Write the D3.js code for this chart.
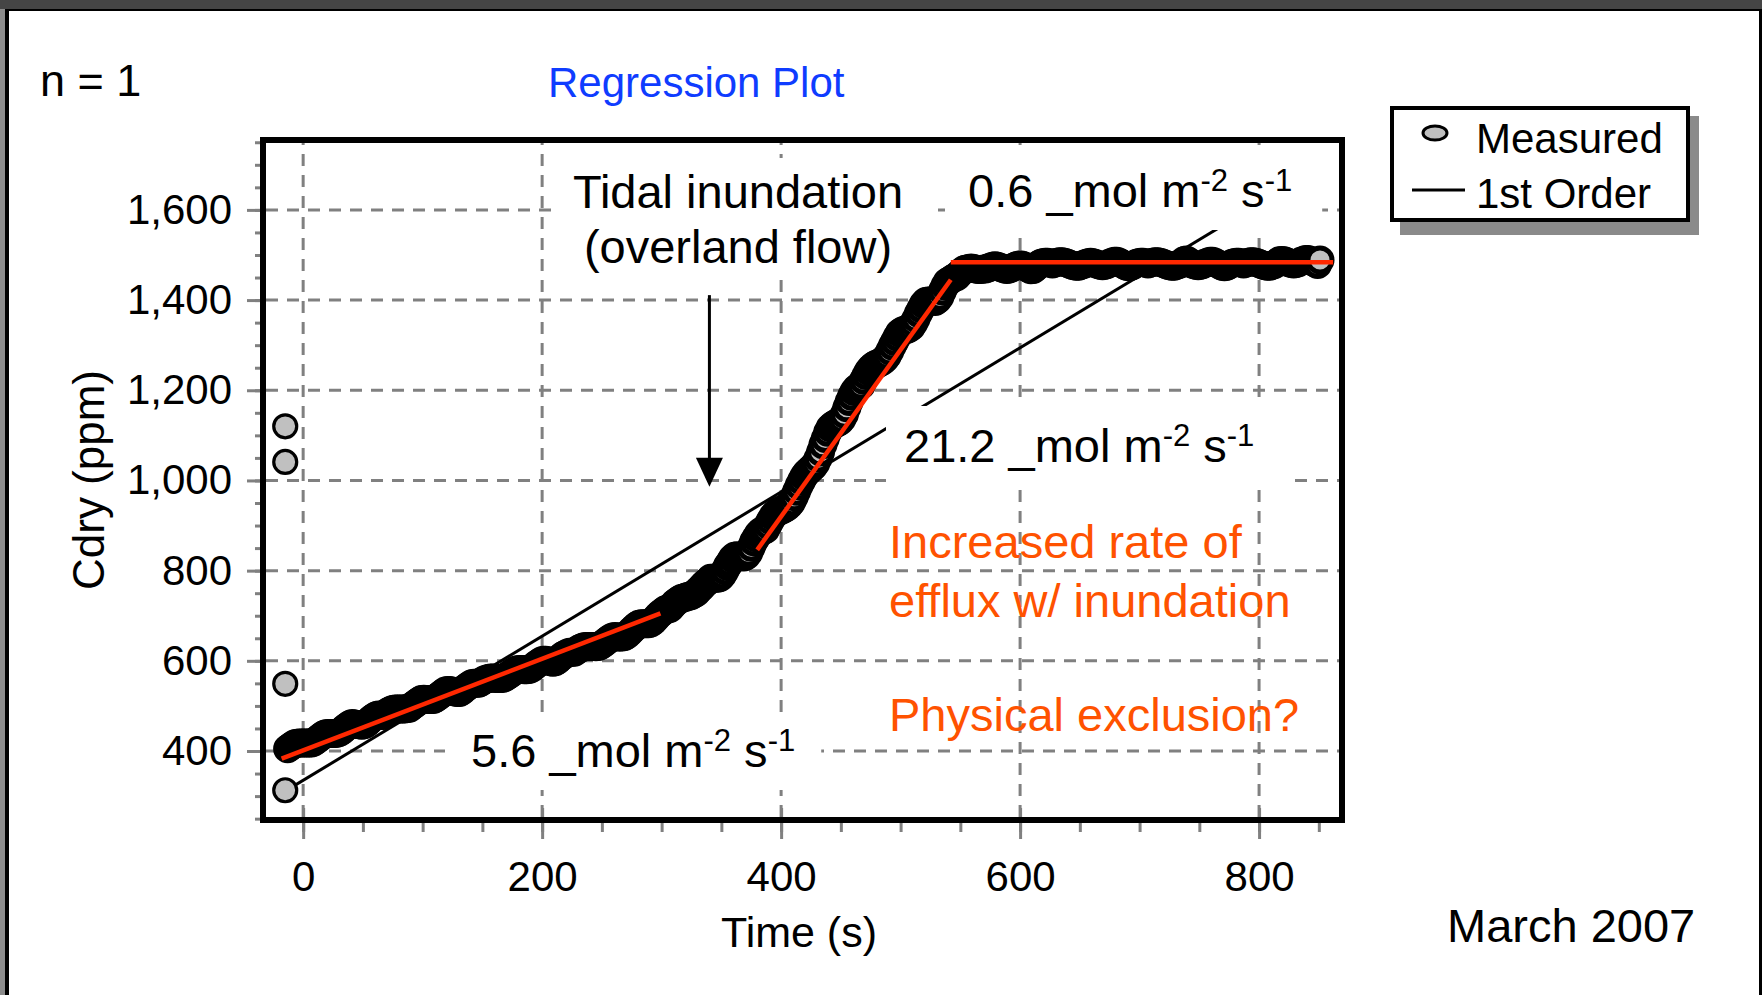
<!DOCTYPE html>
<html>
<head>
<meta charset="utf-8">
<script src="https://cdn.jsdelivr.net/npm/d3@7"></script>
<style>
  body { margin: 0; background: #fff; }
  svg { display: block; font-family: "Liberation Sans", Arial, sans-serif; }
</style>
</head>
<body>
<svg id="chart" width="1762" height="995"></svg>
<script>
// ---------------------------------data------------------------------------

// measured Cdry (ppm), one sample every 2 s starting at -13 s
const sampleStart = -13;
const sampleStep = 2;
const measured = [
  // -13 .. 49 s
  405, 409, 413, 416, 417, 418, 418, 418, 418, 418, 418, 420, 424, 428, 432, 436,
  438, 439, 439, 439, 439, 440, 442, 446, 451, 455, 459, 461, 460, 459, 458, 457,
  // 51 .. 199 s
  458, 461, 466, 471, 475, 478, 480, 479, 479, 483, 487, 490, 492, 493, 493, 493, 493, 493, 494, 495,
  499, 503, 507, 511, 514, 515, 514, 514, 514, 514, 517, 521, 525, 529, 533, 534, 534, 532, 531, 530,
  530, 533, 538, 542, 546, 549, 550, 550, 550, 553, 557, 559, 561, 562, 562, 561, 561, 561, 561, 563,
  567, 570, 574, 578, 580, 581, 581, 580, 580, 581, 583, 587, 592, 595, 599,
  // 201 .. 299 s
  601, 601, 600, 598, 597, 598, 601, 606, 611, 614, 617, 619, 619, 619, 623, 627, 629, 631, 632, 632,
  632, 632, 631, 632, 634, 638, 642, 646, 650, 653, 654, 653, 653, 653, 654, 657, 662, 668, 673, 678,
  681, 682, 682, 682, 682, 684, 688, 694, 700, 705,
  // 301 .. 569 s
  709, 713, 715, 716, 722, 728, 732, 736, 739, 740, 742, 743, 745, 748, 751, 757, 762, 768, 773, 777,
  783, 783, 783, 783, 785, 791, 800, 810, 818, 827, 832, 833, 832, 831, 830, 833, 840, 852, 864, 873,
  881, 887, 889, 891, 901, 911, 920, 926, 930, 933, 935, 938, 941, 946, 953, 964, 976, 988, 999, 1009,
  1016, 1021, 1026, 1031, 1038, 1049, 1063, 1079, 1093, 1107, 1117, 1122, 1125, 1128, 1131, 1137, 1147, 1161, 1175, 1187,
  1197, 1204, 1208, 1211, 1222, 1233, 1242, 1249, 1254, 1257, 1259, 1262, 1265, 1270, 1277, 1287, 1298, 1308, 1318, 1327,
  1331, 1333, 1335, 1337, 1341, 1349, 1359, 1371, 1381, 1391, 1397, 1398, 1398, 1398, 1397, 1401, 1408, 1420, 1431, 1440,
  1443, 1447, 1450, 1452, 1458, 1463, 1467, 1469, 1470, 1471, 1470, 1469, 1468, 1468, 1469,
  // 571 .. 851 s
  1469, 1471, 1473, 1475, 1476, 1475, 1473, 1471, 1469, 1468, 1469, 1471, 1474, 1476, 1478, 1478, 1476, 1473, 1470, 1467,
  1468, 1472, 1478, 1481, 1483, 1484, 1484, 1482, 1480, 1482, 1484, 1485, 1485, 1484, 1482, 1480, 1478, 1476, 1475, 1475,
  1477, 1479, 1481, 1483, 1484, 1483, 1481, 1479, 1477, 1476, 1477, 1479, 1482, 1484, 1486, 1486, 1484, 1481, 1478, 1475,
  1474, 1475, 1478, 1481, 1483, 1484, 1484, 1482, 1480, 1482, 1484, 1485, 1485, 1484, 1482, 1480, 1478, 1476, 1475, 1475,
  1477, 1479, 1481, 1487, 1489, 1486, 1481, 1479, 1477, 1476, 1477, 1479, 1482, 1484, 1486, 1486, 1484, 1481, 1478, 1475,
  1474, 1475, 1478, 1481, 1483, 1484, 1484, 1482, 1480, 1482, 1484, 1485, 1485, 1484, 1482, 1480, 1478, 1476, 1475, 1475,
  1477, 1479, 1483, 1487, 1488, 1487, 1485, 1483, 1481, 1480, 1481, 1483, 1486, 1488, 1490, 1490, 1488, 1485, 1482, 1479,
  1489
];

// first readings right after the chamber closed
const startupTime = -15;
const startupValues = [1120, 1041, 549, 313];

// 1st order fit over the whole record
const firstOrderTimes = [-15, 852];
const firstOrderValues = [311, 1697];

// piecewise rate fits (red)
const rateFitTimes = [[-18, 299], [380, 542], [542, 862]];
const rateFitValues = [[383, 705], [846, 1445], [1484, 1484]];

const xTicks = [0, 200, 400, 600, 800];
const yTicks = [400, 600, 800, 1000, 1200, 1400, 1600];
const xDomain = [-33.6, 869.4];
const yDomain = [247, 1755];

// arrow "tidal inundation"
const arrowTime = 340;
const arrowFrom = 1411;
const arrowTo = 986;

// ---------------------------------layout------------------------------------

const plot = { left: 263, right: 1342, top: 140, bottom: 820 };
const svg = d3.select("#chart");

let x = d3.scaleLinear().domain(xDomain).range([plot.left, plot.right]);
let y = d3.scaleLinear().domain(yDomain).range([plot.bottom, plot.top]);

// page border
svg.append("rect").attr("x", 0).attr("y", 0).attr("width", 1762).attr("height", 9).attr("fill", "#454545");
svg.append("rect").attr("x", 0).attr("y", 9).attr("width", 1762).attr("height", 2).attr("fill", "#000");
svg.append("rect").attr("x", 0).attr("y", 9).attr("width", 5).attr("height", 986).attr("fill", "#8c8c8c");
svg.append("rect").attr("x", 5).attr("y", 9).attr("width", 4).attr("height", 986).attr("fill", "#000");
svg.append("rect").attr("x", 1759).attr("y", 9).attr("width", 3).attr("height", 986).attr("fill", "#000");

// dashed grid
let grid = svg.append("g")
  .attr("stroke", "#808080")
  .attr("stroke-width", 3)
  .attr("stroke-dasharray", "12 9");
grid.selectAll(".h").data(yTicks).join("line")
  .attr("x1", plot.left + 3).attr("x2", plot.right - 3)
  .attr("y1", d => y(d)).attr("y2", d => y(d));
grid.selectAll(".v").data(xTicks).join("line")
  .attr("y1", plot.bottom - 3).attr("y2", plot.top + 3)
  .attr("x1", d => x(d)).attr("x2", d => x(d));

// 1st order line (sits under the samples)
svg.append("line")
  .attr("x1", x(firstOrderTimes[0])).attr("y1", y(firstOrderValues[0]))
  .attr("x2", x(firstOrderTimes[1])).attr("y2", y(firstOrderValues[1]))
  .attr("stroke", "#000").attr("stroke-width", 3);

// white text boxes get filled in later
let boxLayer = svg.append("g");

// samples - dense overlap turns the band nearly black
let marks = svg.append("g")
  .attr("fill", "#c0c0c0")
  .attr("stroke", "#000");
marks.selectAll(".s").data(startupValues).join("circle")
  .attr("cx", x(startupTime)).attr("cy", d => y(d))
  .attr("r", 11.5).attr("stroke-width", 3.2);
marks.selectAll(".m").data(measured).join("circle")
  .attr("cx", (d, i) => x(sampleStart + i * sampleStep))
  .attr("cy", d => y(d))
  .attr("r", 12)
  .attr("stroke-width", 5);

// red rate fits
let fitLine = d3.line().x(d => x(d[0])).y(d => y(d[1]));
svg.append("g").selectAll("path")
  .data(rateFitTimes.map((t, i) => t.map((tt, j) => [tt, rateFitValues[i][j]])))
  .join("path")
  .attr("d", fitLine)
  .attr("fill", "none")
  .attr("stroke", "#ff2800")
  .attr("stroke-width", 4.5);

// ---------------------------------annotations------------------------------------

let notes = svg.append("g").attr("font-size", 47).attr("fill", "#000");

function boxBehind(node, pad) {
  let b = node.getBBox();
  boxLayer.append("rect")
    .attr("x", b.x - pad[0])
    .attr("y", b.y - pad[2])
    .attr("width", b.width + pad[0] + pad[1])
    .attr("height", b.height + pad[2] + pad[3])
    .attr("fill", "#fff");
}

function rateLabel(px, py, value, pad) {
  let t = notes.append("text").attr("x", px).attr("y", py);
  t.append("tspan").text(value + " _mol m");
  t.append("tspan").attr("dy", -16).attr("font-size", 31).text("-2");
  t.append("tspan").attr("dy", 16).text(" s");
  t.append("tspan").attr("dy", -16).attr("font-size", 31).text("-1");
  boxBehind(t.node(), pad);
}

let tidal = notes.append("g").attr("text-anchor", "middle");
tidal.append("text").attr("x", 738).attr("y", 208).text("Tidal inundation");
tidal.append("text").attr("x", 738).attr("y", 263).text("(overland flow)");
boxBehind(tidal.node(), [15, 29, 7, 2]);

rateLabel(968, 207, "0.6", [23, 30, 12, 13]);
rateLabel(904, 462, "21.2", [18, 33, 12, 11]);
rateLabel(471, 767, "5.6", [26, 26, 10, 13]);

let orange = notes.append("g").attr("fill", "#ff5200");
orange.append("text").attr("x", 889).attr("y", 558).text("Increased rate of");
orange.append("text").attr("x", 889).attr("y", 617).text("efflux w/ inundation");
orange.append("text").attr("x", 889).attr("y", 731).text("Physical exclusion?");

// arrow
let ax = x(arrowTime), ay1 = y(arrowFrom), ay2 = y(arrowTo);
svg.append("line")
  .attr("x1", ax).attr("x2", ax)
  .attr("y1", ay1).attr("y2", ay2 - 20)
  .attr("stroke", "#000").attr("stroke-width", 3);
svg.append("path")
  .attr("d", `M${ax - 13.5},${ay2 - 29} L${ax + 13.5},${ay2 - 29} L${ax},${ay2} Z`)
  .attr("fill", "#000");

// ---------------------------------axes------------------------------------

function styleAxis(g, size) {
  g.select(".domain").remove();
  g.selectAll(".tick line").attr("stroke", "#808080").attr("stroke-width", 3);
  g.selectAll(".tick text").attr("fill", "#000").attr("font-size", size);
  g.attr("font-family", null).attr("font-size", null);
}

svg.append("g")
  .attr("transform", `translate(0,${plot.bottom + 3})`)
  .call(d3.axisBottom(x).tickValues(x.ticks(20)).tickSize(9).tickFormat(""))
  .call(g => styleAxis(g, 42));
svg.append("g")
  .attr("transform", `translate(0,${plot.bottom - 12})`)
  .call(d3.axisBottom(x).tickValues(xTicks).tickSize(31).tickPadding(22).tickFormat(d3.format("d")))
  .call(g => styleAxis(g, 42));

svg.append("g")
  .attr("transform", `translate(${plot.left},0)`)
  .call(d3.axisLeft(y).tickValues(y.ticks(30)).tickSize(8).tickFormat(""))
  .call(g => styleAxis(g, 42));
svg.append("g")
  .attr("transform", `translate(${plot.left + 3},0)`)
  .call(d3.axisLeft(y).tickValues(yTicks).tickSize(19).tickPadding(15).tickFormat(d3.format(",")))
  .call(g => styleAxis(g, 42));

// plot frame
svg.append("rect")
  .attr("x", plot.left).attr("y", plot.top)
  .attr("width", plot.right - plot.left).attr("height", plot.bottom - plot.top)
  .attr("fill", "none").attr("stroke", "#000").attr("stroke-width", 6);

// titles
svg.append("text").attr("x", 799).attr("y", 947).attr("text-anchor", "middle")
  .attr("font-size", 43).text("Time (s)");
svg.append("text").attr("transform", "translate(104,480) rotate(-90)").attr("text-anchor", "middle")
  .attr("font-size", 44).text("Cdry (ppm)");
svg.append("text").attr("x", 548).attr("y", 97).attr("font-size", 42).attr("fill", "#0f3cff")
  .text("Regression Plot");
svg.append("text").attr("x", 40).attr("y", 96).attr("font-size", 45).text("n = 1");
svg.append("text").attr("x", 1447).attr("y", 942).attr("font-size", 47).text("March 2007");

// legend
let legend = svg.append("g");
legend.append("rect").attr("x", 1400).attr("y", 116).attr("width", 299).attr("height", 119).attr("fill", "#8a8a8a");
legend.append("rect").attr("x", 1392).attr("y", 108).attr("width", 296).attr("height", 112)
  .attr("fill", "#fff").attr("stroke", "#000").attr("stroke-width", 4);
legend.append("ellipse").attr("cx", 1435).attr("cy", 133).attr("rx", 12).attr("ry", 7)
  .attr("fill", "#c0c0c0").attr("stroke", "#000").attr("stroke-width", 3);
legend.append("line").attr("x1", 1412).attr("x2", 1465).attr("y1", 190).attr("y2", 190)
  .attr("stroke", "#000").attr("stroke-width", 3);
legend.append("text").attr("x", 1476).attr("y", 153).attr("font-size", 42).text("Measured");
legend.append("text").attr("x", 1476).attr("y", 208).attr("font-size", 42).text("1st Order");
</script>
</body>
</html>
